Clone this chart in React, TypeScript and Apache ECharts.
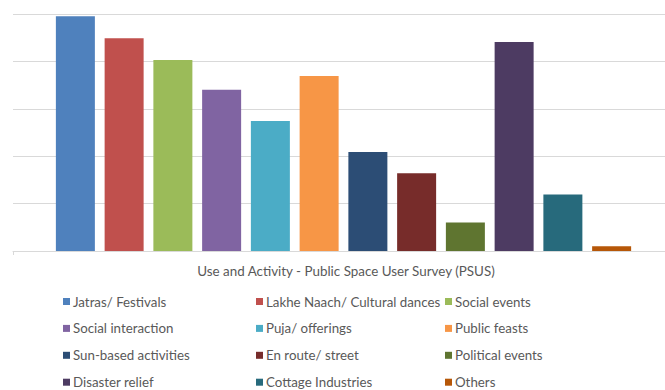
import React, { useEffect, useRef } from "react";
import * as echarts from "echarts";

// Survey responses per activity (share of respondents, %)
const activities = [
  "Jatras/ Festivals",
  "Lakhe Naach/ Cultural dances",
  "Social events",
  "Social interaction",
  "Puja/ offerings",
  "Public feasts",
  "Sun-based activities",
  "En route/ street",
  "Political events",
  "Disaster relief",
  "Cottage Industries",
  "Others",
];
const responses = [49.5, 44.9, 40.3, 34.0, 27.4, 36.9, 20.9, 16.4, 6.0, 44.1, 11.9, 1.0];
const palette = [
  "#4F81BD", "#C0504D", "#9BBB59", "#8064A2", "#4BACC6", "#F79646",
  "#2C4D75", "#772C2A", "#5F7530", "#4D3B62", "#276A7C", "#B65708",
];
const axisTitle = "Use and Activity - Public Space User Survey (PSUS)";

const FONT = "Lato, 'Noto Sans', sans-serif";
const TEXT_COLOR = "#595959";
const legendColumnsLeft = [63, 256, 445];

export default function App() {
  const ref = useRef<HTMLDivElement>(null);

  useEffect(() => {
    if (!ref.current) return;
    const chart = echarts.init(ref.current, undefined, { renderer: "svg" });

    const series = activities.map((name, i) => ({
      name,
      type: "bar" as const,
      data: [responses[i]],
      barWidth: 39,
      barGap: "25%",
      itemStyle: { color: palette[i] },
    }));

    // three legend columns, filled row by row
    const columns = [0, 1, 2].map((c) => activities.filter((_, i) => i % 3 === c));
    const legends = columns.map((names, c) => ({
      orient: "vertical" as const,
      left: legendColumnsLeft[c],
      top: 295,
      padding: 0,
      data: names,
      icon: "rect",
      itemWidth: 7,
      itemHeight: 7,
      itemGap: 13.9,
      selectedMode: false,
      textStyle: {
        fontFamily: FONT,
        fontSize: 13.3,
        lineHeight: 13,
        color: TEXT_COLOR,
        padding: [0, 0, 0, -2],
      },
    }));

    chart.setOption({
      animation: false,
      grid: { left: 13, top: 14, right: 0, height: 237, containLabel: false },
      xAxis: {
        type: "category",
        data: [""],
        axisLine: { lineStyle: { color: "#d9d9d9" } },
        axisTick: { show: true, length: 4, lineStyle: { color: "#d9d9d9" } },
        axisLabel: { show: false },
        name: axisTitle,
        nameLocation: "middle",
        nameGap: 13,
        nameTextStyle: { fontFamily: FONT, fontSize: 13.4, color: TEXT_COLOR, padding: [0, 0, 0, 5] },
      },
      yAxis: {
        type: "value",
        min: 0,
        max: 50,
        interval: 10,
        axisLabel: { show: false },
        axisLine: { show: false },
        axisTick: { show: false },
        splitLine: { lineStyle: { color: "#d9d9d9" } },
      },
      legend: legends,
      series,
    });

    return () => chart.dispose();
  }, []);

  // the plot runs a few pixels past the right edge of the page
  return (
    <div
      ref={ref}
      style={{ position: "fixed", left: 0, top: 0, width: 674, height: 390, background: "#fff" }}
    />
  );
}
